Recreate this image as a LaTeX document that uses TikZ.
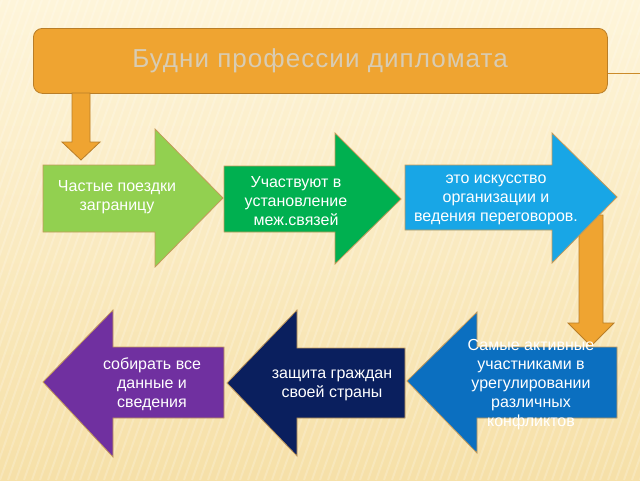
\documentclass[tikz,border=0pt]{standalone}
\usepackage{fontspec}
\setmainfont{Liberation Sans}
\definecolor{bgtop}{HTML}{FEF5DA}
\definecolor{bgbot}{HTML}{F6E0A8}
\definecolor{orng}{HTML}{EFA431}
\definecolor{orngedge}{HTML}{B97E28}
\definecolor{titletext}{HTML}{D8CCB4}
\definecolor{edge}{HTML}{C49A5A}
\definecolor{lgreen}{HTML}{92D050}
\definecolor{dgreen}{HTML}{00B050}
\definecolor{sky}{HTML}{18A6E6}
\definecolor{mblue}{HTML}{0B6FC0}
\definecolor{navy}{HTML}{0A1F5E}
\definecolor{purp}{HTML}{7030A0}
\begin{document}
\begin{tikzpicture}[x=1pt,y=-1pt,
  shapeedge/.style={draw=edge,line width=0.8pt,line join=miter},
  orangearrow/.style={fill=orng,draw=orngedge,line width=0.8pt,line join=miter},
  lbl/.style={text=white,align=center,font=\fontsize{16}{19}\selectfont,inner sep=0pt}]
\useasboundingbox (0,0) rectangle (640,480);
% background
\shade[top color=bgtop,bottom color=bgbot] (0,0) rectangle (640,480);
\begin{scope}
\clip (0,0) rectangle (640,480);
\foreach \i in {-200,-192,...,640}
  \draw[white,opacity=0.2,line width=2pt] (\i,480) -- (\i+170,0);
\end{scope}
% title
\node[draw=orngedge,fill=orng,line width=0.8pt,rounded corners=9pt,
  minimum width=574pt,minimum height=65pt,anchor=north west,inner sep=0pt] (title) at (33,28) {};
\node[text=titletext,font=\fontsize{26}{30}\selectfont\addfontfeatures{LetterSpace=4}] (titletxt) at (320,61) {Будни профессии дипломата};
\coordinate (lineend) at (640,73);
\draw[orng!85!black,line width=0.8pt] (title.east |- lineend) -- (lineend);
% orange arrow 2 (behind blue arrow)
\coordinate (o2top) at (591,215);
\coordinate (o2tip) at (591,346);
\draw[orangearrow] (579,215) -- (603,215) -- (603,323) -- (614,323) -- (o2tip) -- (568,323) -- (579,323) -- cycle;
% orange arrow 1
\coordinate (o1tip) at (81,160);
\draw[orangearrow] (72,93) -- (90,93) -- (90,142) -- (100,142) -- (o1tip) -- (62,142) -- (72,142) -- cycle;
% top row arrows
\draw[shapeedge,fill=lgreen] (43,165) -- (155,165) -- (155,129) -- (223,198) -- (155,267) -- (155,232) -- (43,232) -- cycle;
\draw[shapeedge,fill=dgreen] (224,166) -- (335,166) -- (335,133) -- (401,199) -- (335,264) -- (335,232) -- (224,232) -- cycle;
\draw[shapeedge,fill=sky] (405,165) -- (552,165) -- (552,133) -- (617,197) -- (552,263) -- (552,230) -- (405,230) -- cycle;
% bottom row arrows
\draw[shapeedge,fill=mblue] (617,347) -- (477,347) -- (477,312) -- (407,381) -- (477,453) -- (477,418) -- (617,418) -- cycle;
\draw[shapeedge,fill=navy] (405,348) -- (297,348) -- (297,310) -- (227,383) -- (297,456) -- (297,418) -- (405,418) -- cycle;
\draw[shapeedge,fill=purp] (224,347) -- (113,347) -- (113,310) -- (43,382) -- (113,457) -- (113,418) -- (224,418) -- cycle;
% labels
\node[lbl] (a1) at (117,197) {Частые поездки\\заграницу};
\node[lbl] (a2) at (296,201) {Участвуют в\\установление\\меж.связей};
\node[lbl] (a3) at (496,200) {это искусство\\организации и\\ведения переговоров.};
\node[lbl] (a4) at (531,385) {Самые активные\\участниками в\\урегулировании\\различных\\конфликтов};
\node[lbl] (a5) at (332,385) {защита граждан\\своей страны};
\node[lbl] (a6) at (152,384) {собирать все\\данные и\\сведения};
\end{tikzpicture}
\end{document}
